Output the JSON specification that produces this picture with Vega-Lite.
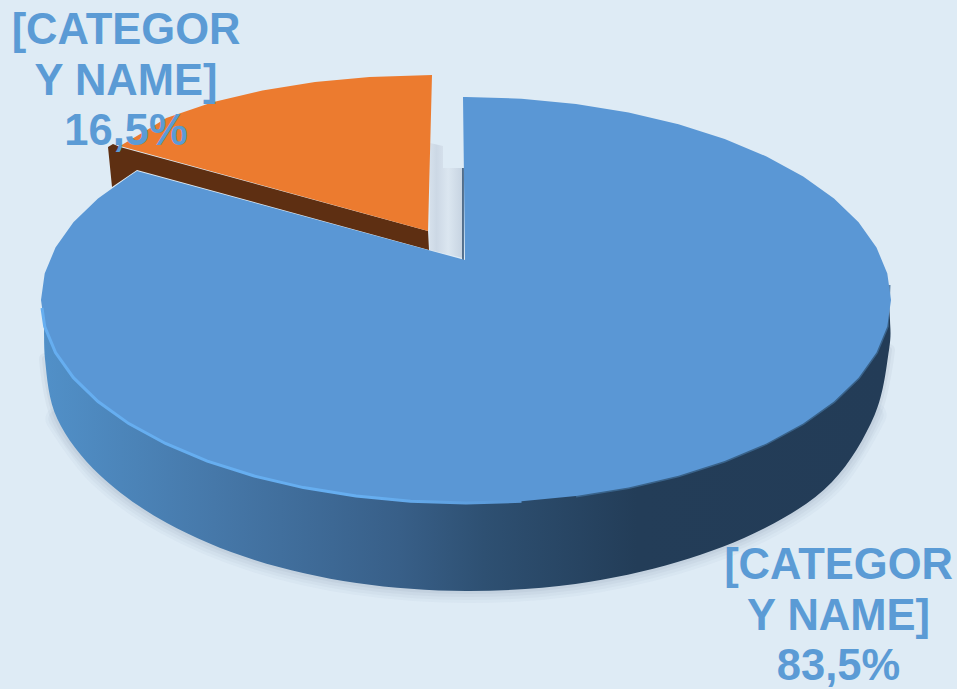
{
  "$schema": "https://vega.github.io/schema/vega-lite/v6.json",
  "width": 957,
  "height": 689,
  "padding": 0,
  "autosize": {"type": "none"},
  "background": "#deebf5",
  "view": {"stroke": null},
  "datasets": {
    "mainTop": [
      {"n":1,"x":0,"y":0},{"n":2,"x":-2,"y":163},{"n":3,"x":1,"y":163},{"n":4,"x":56.5,"y":161.3},
      {"n":5,"x":111,"y":156.1},{"n":6,"x":163.6,"y":147.6},{"n":7,"x":213.5,"y":135.8},{"n":8,"x":259.7,"y":121.1},
      {"n":9,"x":301.5,"y":103.5},{"n":10,"x":338.2,"y":83.6},{"n":11,"x":369,"y":61.5},{"n":12,"x":393.6,"y":37.7},
      {"n":13,"x":411.5,"y":12.5},{"n":14,"x":422.3,"y":-13.5},{"n":15,"x":426,"y":-40},{"n":16,"x":422.3,"y":-66.5},
      {"n":17,"x":411.5,"y":-92.5},{"n":18,"x":393.6,"y":-117.7},{"n":19,"x":369,"y":-141.5},{"n":20,"x":338.2,"y":-163.6},
      {"n":21,"x":301.5,"y":-183.5},{"n":22,"x":259.7,"y":-201.1},{"n":23,"x":213.5,"y":-215.8},{"n":24,"x":163.6,"y":-227.6},
      {"n":25,"x":111,"y":-236.1},{"n":26,"x":56.5,"y":-241.3},{"n":27,"x":1,"y":-243},{"n":28,"x":-54.5,"y":-241.3},
      {"n":29,"x":-109,"y":-236.1},{"n":30,"x":-161.6,"y":-227.6},{"n":31,"x":-211.5,"y":-215.8},{"n":32,"x":-257.7,"y":-201.1},
      {"n":33,"x":-299.5,"y":-183.5},{"n":34,"x":-336.2,"y":-163.6},{"n":35,"x":-367,"y":-141.5},{"n":36,"x":-391.6,"y":-117.7},
      {"n":37,"x":-409.5,"y":-92.5},{"n":38,"x":-420.3,"y":-66.5},{"n":39,"x":-424,"y":-40},{"n":40,"x":-420.3,"y":-13.5},
      {"n":41,"x":-409.5,"y":12.5},{"n":42,"x":-391.6,"y":37.7},{"n":43,"x":-367,"y":61.5},{"n":44,"x":-336.2,"y":83.6},
      {"n":45,"x":-328,"y":89}
    ],
    "mainSide": [
      {"n":1,"x":-420,"y":-45},{"n":2,"x":-420,"y":-99},{"n":3,"x":-407.6,"y":-159},{"n":4,"x":-365.3,"y":-215},
      {"n":5,"x":-298.1,"y":-263},{"n":6,"x":-210.5,"y":-300},{"n":7,"x":-108.5,"y":-323},{"n":8,"x":1,"y":-331},
      {"n":9,"x":110.5,"y":-324},{"n":10,"x":212.5,"y":-302},{"n":11,"x":300,"y":-268},{"n":12,"x":367,"y":-222},
      {"n":13,"x":409.6,"y":-155},{"n":14,"x":424,"y":-90},{"n":15,"x":425,"y":-60},{"n":16,"x":423,"y":-40}
    ],
    "minorTop": [
      {"n":1,"x":-33,"y":185},{"n":2,"x":-95.5,"y":183},{"n":3,"x":-150,"y":178},{"n":4,"x":-202.6,"y":169.6},
      {"n":5,"x":-252.5,"y":157.8},{"n":6,"x":-298.7,"y":142},{"n":7,"x":-318,"y":130},{"n":8,"x":-345,"y":114},
      {"n":9,"x":-37,"y":29}
    ],
    "minorSide": [
      {"n":1,"x":-357,"y":113},{"n":2,"x":-352,"y":116},{"n":3,"x":-345,"y":113},{"n":4,"x":-37,"y":29},
      {"n":5,"x":-36,"y":10},{"n":6,"x":-328,"y":90},{"n":7,"x":-353,"y":73}
    ],
    "gapShadow": [
      {"n":1,"x":-35,"y":117},{"n":2,"x":-22,"y":114},{"n":3,"x":-22,"y":92},{"n":4,"x":-2,"y":92},
      {"n":5,"x":-2,"y":2},{"n":6,"x":-35,"y":10}
    ],
    "gapEdge": [
      {"n":1,"x":-2,"y":92},{"n":2,"x":-2,"y":0}
    ],
    "rim": [
      {"n":1,"x":-423,"y":-48},{"n":2,"x":-420.3,"y":-66.5},{"n":3,"x":-409.5,"y":-92.5},{"n":4,"x":-391.6,"y":-117.7},
      {"n":5,"x":-367,"y":-141.5},{"n":6,"x":-336.2,"y":-163.6},{"n":7,"x":-299.5,"y":-183.5},{"n":8,"x":-257.7,"y":-201.1},
      {"n":9,"x":-211.5,"y":-215.8},{"n":10,"x":-161.6,"y":-227.6},{"n":11,"x":-109,"y":-236.1},{"n":12,"x":-54.5,"y":-241.3},
      {"n":13,"x":1,"y":-243},{"n":14,"x":56.5,"y":-241.3}
    ],
    "farEdge": [
      {"n":1,"x":424,"y":-25},{"n":2,"x":422.3,"y":-66.5},{"n":3,"x":411.5,"y":-92.5},{"n":4,"x":393.6,"y":-117.7},
      {"n":5,"x":369,"y":-141.5},{"n":6,"x":338.2,"y":-163.6},{"n":7,"x":301.5,"y":-183.5},{"n":8,"x":259.7,"y":-201.1},
      {"n":9,"x":213.5,"y":-215.8},{"n":10,"x":163.6,"y":-227.6},{"n":11,"x":111,"y":-236.1}
    ],
    "labels": [
      {"share":16.5,"label":"[CATEGOR\nY NAME]\n16,5%","x":-339,"y":216},
      {"share":83.5,"label":"[CATEGOR\nY NAME]\n83,5%","x":373.5,"y":-319}
    ]
  },
  "encoding": {
    "x": {"field":"x","type":"quantitative","scale":{"domain":[-465,492],"nice":false,"zero":false},"axis":null},
    "y": {"field":"y","type":"quantitative","scale":{"domain":[-429,260],"nice":false,"zero":false},"axis":null}
  },
  "layer": [
    {"data":{"name":"mainSide"},"transform":[{"filter":"datum.n >= 3 && datum.n <= 13"}],"mark":{"type":"line","interpolate":"cardinal","stroke":"#7d8fa8","strokeWidth":24,"opacity":0.05,"strokeCap":"round"},"encoding":{"order":{"field":"n"}}},
    {"data":{"name":"mainSide"},"transform":[{"filter":"datum.n >= 3 && datum.n <= 13"}],"mark":{"type":"line","interpolate":"cardinal","stroke":"#7d8fa8","strokeWidth":18,"opacity":0.06,"strokeCap":"round"},"encoding":{"order":{"field":"n"}}},
    {"data":{"name":"mainSide"},"transform":[{"filter":"datum.n >= 2 && datum.n <= 14"}],"mark":{"type":"line","interpolate":"cardinal","stroke":"#7d8fa8","strokeWidth":12,"opacity":0.08,"strokeCap":"round"},"encoding":{"order":{"field":"n"}}},
    {"data":{"name":"mainSide"},"transform":[{"filter":"datum.n >= 2 && datum.n <= 14"}],"mark":{"type":"line","interpolate":"cardinal","stroke":"#7d8fa8","strokeWidth":6,"opacity":0.1,"strokeCap":"round"},"encoding":{"order":{"field":"n"}}},
    {"data":{"name":"gapShadow"},"mark":{"type":"line","stroke":null,"fill":{"gradient":"linear","x1":0,"y1":0,"x2":1,"y2":0,"stops":[{"offset":0,"color":"#d5e0eb"},{"offset":0.2,"color":"#ccd8e5"},{"offset":0.55,"color":"#dbe6f0"},{"offset":1,"color":"#c6d3e1"}]}},"encoding":{"order":{"field":"n"}}},
    {"data":{"name":"gapEdge"},"mark":{"type":"line","stroke":"#2d4d6e","strokeWidth":1.5},"encoding":{"order":{"field":"n"}}},
    {"data":{"name":"minorSide"},"mark":{"type":"line","stroke":null,"fill":"#5e2f12"},"encoding":{"order":{"field":"n"}}},
    {"data":{"name":"minorTop"},"mark":{"type":"line","stroke":null,"fill":"#ec7b2f"},"encoding":{"order":{"field":"n"}}},
    {"data":{"name":"mainSide"},"mark":{"type":"line","interpolate":"cardinal","stroke":null,"fill":{"gradient":"linear","x1":0,"y1":0,"x2":1,"y2":0,"stops":[{"offset":0,"color":"#5190c8"},{"offset":0.2,"color":"#4678a9"},{"offset":0.42,"color":"#385f88"},{"offset":0.52,"color":"#2e5072"},{"offset":0.7,"color":"#233d58"},{"offset":1,"color":"#233c57"}]}},"encoding":{"order":{"field":"n"}}},
    {"data":{"name":"farEdge"},"mark":{"type":"line","stroke":"#3f6b96","strokeWidth":3,"opacity":0.8},"encoding":{"order":{"field":"n"}}},
    {"data":{"name":"mainTop"},"mark":{"type":"line","stroke":null,"fill":"#5a97d5"},"encoding":{"order":{"field":"n"}}},
    {"data":{"name":"rim"},"mark":{"type":"line","strokeWidth":3,"stroke":{"gradient":"linear","x1":0,"y1":0,"x2":1,"y2":0,"stops":[{"offset":0,"color":"#66aef0"},{"offset":0.7,"color":"#66aef0"},{"offset":1,"color":"#5a97d5"}]}},"encoding":{"order":{"field":"n"}}},
    {"data":{"name":"labels"},"mark":{"type":"text","font":"Liberation Sans","fontWeight":"bold","fontSize":43.5,"lineHeight":50.5,"lineBreak":"\n","align":"center","baseline":"alphabetic","fill":"#5b9bd5"},"encoding":{"text":{"field":"label"}}}
  ]
}
